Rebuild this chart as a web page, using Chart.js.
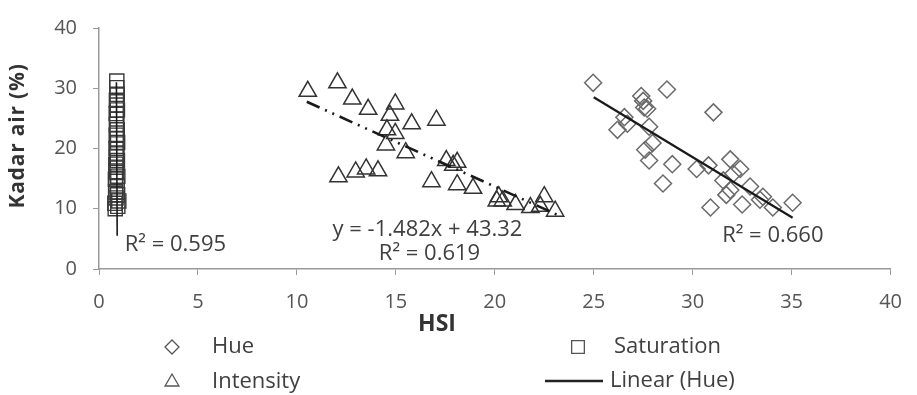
<!DOCTYPE html>
<html>
<head>
<meta charset="utf-8">
<script src="https://cdn.jsdelivr.net/npm/chart.js@4.4.1/dist/chart.umd.min.js"></script>
<style>
  html, body { margin: 0; padding: 0; background: #fff; }
  #chart { display: block; }
</style>
</head>
<body>
<canvas id="chart" width="917" height="395"></canvas>
<script>
// HSI colour components vs. water content (Kadar air)
const hueX = [24.97, 27.4, 27.5, 27.55, 27.7, 28.7, 26.55, 26.2, 26.7, 27.8, 27.97, 27.6, 27.8, 28.97, 28.5,
  31.05, 30.2, 30.8, 31.9, 32.4, 32.05, 31.55, 31.7, 30.9, 32.5, 32.9, 33.55, 33.4, 34.05, 35.05, 31.9];
const hueY = [30.9, 28.7, 27.9, 26.8, 26.6, 29.8, 25.2, 23.1, 24.1, 23.6, 20.9, 19.8, 18.0, 17.4, 14.2,
  26.0, 16.6, 17.2, 18.2, 16.6, 15.8, 14.7, 12.3, 10.2, 10.7, 13.7, 12.0, 11.5, 10.2, 11.0, 13.1];

const satX = [0.82, 0.95, 0.8, 1.0, 0.86, 0.94, 0.84, 0.92, 0.83, 0.95, 0.88, 0.9, 0.85, 0.93, 0.89,
  0.9, 0.86, 0.94, 0.9, 0.87, 0.92, 0.88, 0.9, 0.87, 0.93, 0.9, 0.88, 0.92, 0.9, 0.9];
const satY = [10.0, 10.4, 10.9, 11.3, 11.8, 12.3, 12.8, 13.8, 14.9, 15.4, 16.0, 16.9, 17.4, 18.0, 18.6,
  19.1, 20.0, 21.0, 21.6, 22.2, 23.1, 24.0, 24.9, 25.8, 26.4, 27.2, 28.0, 29.0, 30.1, 31.2];

const intX = [10.55, 12.05, 12.8, 13.6, 14.97, 14.7, 15.8, 17.05, 14.55, 14.97, 14.5, 15.5, 12.1, 12.97, 13.5,
  14.1, 16.8, 17.55, 18.1, 17.9, 18.1, 18.9, 20.2, 20.1, 20.4, 21.05, 21.8, 22.5, 22.3, 23.05];
const intY = [29.5, 30.9, 28.2, 26.5, 27.4, 25.5, 24.1, 24.7, 23.1, 22.5, 20.6, 19.3, 15.3, 16.1, 16.6,
  16.3, 14.5, 18.0, 17.7, 17.2, 14.0, 13.4, 12.0, 11.3, 11.3, 10.7, 10.2, 12.0, 10.4, 9.6];

// trend line end points
const hueFitX = [25, 35.05];
const hueFitY = [28.5, 8.5];
const satFitX = [0.92, 0.88];
const satFitY = [5.5, 31];
const intFitSlope = -1.482;
const intFitIntercept = 43.32;
const intFitX = [10.5, 23.2];

const xTicks = [0, 5, 10, 15, 20, 25, 30, 35, 40];
const yTicks = [0, 10, 20, 30, 40];

const zip = (xs, ys) => xs.map((x, i) => ({ x, y: ys[i] }));

const FONT = '"Open Sans", sans-serif';
const ink = '#404040';

// labels placed in data units
const fitLabels = [
  { text: 'R² = 0.595', x: 1.3, y: 4.0, align: 'left' },
  { text: 'y = -1.482x + 43.32', x: 16.6, y: 6.45, align: 'center' },
  { text: 'R² = 0.619', x: 16.7, y: 2.6, align: 'center' },
  { text: 'R² = 0.660', x: 34.05, y: 5.6, align: 'center' },
];

const legendSlots = [
  { label: 'Hue', style: 'rectRot', r: 7, px: 172, py: 347, tx: 212 },
  { label: 'Saturation', style: 'rect', r: 9, px: 578, py: 347, tx: 614 },
  { label: 'Intensity', style: 'triangle', r: 8, px: 172, py: 382, tx: 212 },
  { label: 'Linear (Hue)', style: 'line', px: 545, py: 381, tx: 610 },
];

const annotate = {
  id: 'annotate',
  afterDraw(chart) {
    const { ctx, scales: { x, y } } = chart;
    ctx.save();
    ctx.fillStyle = ink;
    ctx.font = '22px ' + FONT;
    ctx.textBaseline = 'middle';
    fitLabels.forEach(l => {
      ctx.textAlign = l.align;
      ctx.fillText(l.text, x.getPixelForValue(l.x), y.getPixelForValue(l.y));
    });

    // axis titles
    ctx.fillStyle = '#333';
    ctx.textAlign = 'center';
    ctx.font = 'bold 23px ' + FONT;
    ctx.fillText('HSI', 437, 324);
    ctx.translate(18, 136);
    ctx.rotate(-Math.PI / 2);
    ctx.font = 'bold 21px ' + FONT;
    ctx.letterSpacing = '0.8px';
    ctx.fillText('Kadar air (%)', 0, 0);
    ctx.restore();

    // legend
    ctx.save();
    ctx.font = '22px ' + FONT;
    ctx.textAlign = 'left';
    ctx.textBaseline = 'middle';
    legendSlots.forEach(s => {
      if (s.style === 'line') {
        ctx.strokeStyle = '#222';
        ctx.lineWidth = 2.5;
        ctx.beginPath();
        ctx.moveTo(s.px, s.py);
        ctx.lineTo(s.px + 58, s.py);
        ctx.stroke();
      } else {
        ctx.strokeStyle = '#555';
        ctx.fillStyle = '#fff';
        ctx.lineWidth = 1.3;
        Chart.helpers.drawPoint(ctx, { pointStyle: s.style, radius: s.r, rotation: 0, borderWidth: 1.3 }, s.px, s.py);
      }
      ctx.fillStyle = ink;
      ctx.fillText(s.label, s.tx, s.py);
    });
    ctx.restore();
  }
};

new Chart(document.getElementById('chart'), {
  type: 'scatter',
  data: {
    datasets: [
      {
        label: 'Linear (Hue)',
        type: 'line',
        data: zip(hueFitX, hueFitY),
        borderColor: '#1a1a1a',
        borderWidth: 2.2,
        pointRadius: 0,
        order: 0,
      },
      {
        label: 'Linear (Intensity)',
        type: 'line',
        data: zip(intFitX, intFitX.map(v => intFitSlope * v + intFitIntercept)),
        borderColor: '#1a1a1a',
        borderWidth: 2.6,
        borderDash: [14, 6, 2, 6, 2, 6],
        pointRadius: 0,
        order: 0,
      },
      {
        label: 'Linear (Saturation)',
        type: 'line',
        data: zip(satFitX, satFitY),
        borderColor: '#1a1a1a',
        borderWidth: 1.6,
        pointRadius: 0,
        order: 0,
      },
      {
        label: 'Hue',
        data: zip(hueX, hueY),
        pointStyle: 'rectRot',
        pointRadius: 8.5,
        borderColor: '#6a6a6a',
        borderWidth: 1.5,
        backgroundColor: 'rgba(255,255,255,0)',
        order: 1,
      },
      {
        label: 'Saturation',
        data: zip(satX, satY),
        pointStyle: 'rect',
        pointRadius: 10,
        borderColor: '#3a3a3a',
        borderWidth: 1.4,
        backgroundColor: 'rgba(255,255,255,0)',
        order: 1,
      },
      {
        label: 'Intensity',
        data: zip(intX, intY),
        pointStyle: 'triangle',
        pointRadius: 10,
        borderColor: '#333',
        borderWidth: 1.5,
        backgroundColor: 'rgba(255,255,255,0)',
        order: 1,
      },
    ],
  },
  options: {
    responsive: false,
    animation: false,
    layout: { padding: { top: 21, right: 19, left: 0, bottom: 0 } },
    plugins: {
      legend: { display: false },
      tooltip: { enabled: false },
    },
    scales: {
      x: {
        type: 'linear',
        min: 0,
        max: 40,
        afterFit: scale => { scale.height = 126; },
        afterBuildTicks: scale => { scale.ticks = xTicks.map(value => ({ value })); },
        grid: { drawOnChartArea: false, color: '#999', tickLength: 6 },
        border: { color: '#999', width: 1.5 },
        ticks: { color: '#555', font: { family: FONT, size: 20 }, padding: 15, maxRotation: 0 },
      },
      y: {
        type: 'linear',
        min: 0,
        max: 40,
        afterFit: scale => { scale.width = 99; },
        afterBuildTicks: scale => { scale.ticks = yTicks.map(value => ({ value })); },
        grid: { drawOnChartArea: false, color: '#999', tickLength: 6 },
        border: { color: '#999', width: 1.5 },
        ticks: { color: '#555', font: { family: FONT, size: 20 }, padding: 16 },
      },
    },
  },
  plugins: [annotate],
});
</script>
</body>
</html>
